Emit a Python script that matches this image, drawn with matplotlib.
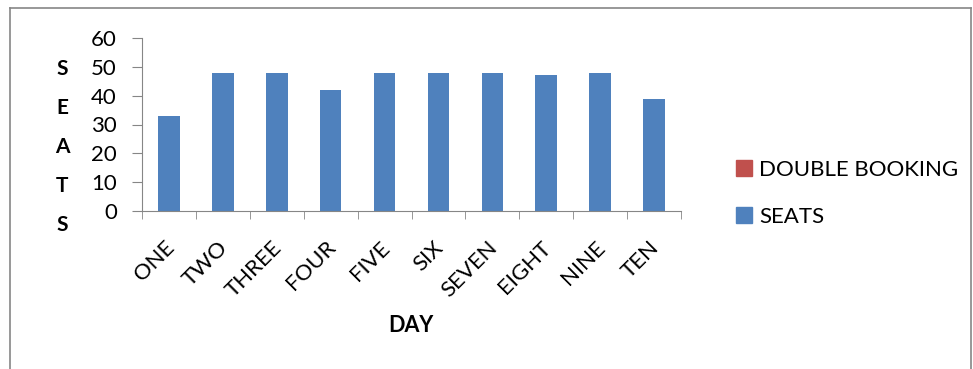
import matplotlib
matplotlib.use('Agg')
import matplotlib.pyplot as plt
from matplotlib.patches import Patch
from matplotlib.lines import Line2D
from matplotlib.transforms import ScaledTranslation

days = ['ONE', 'TWO', 'THREE', 'FOUR', 'FIVE', 'SIX', 'SEVEN', 'EIGHT', 'NINE', 'TEN']
seats = [33, 48, 48, 42, 48, 48, 48, 47, 48, 39]
double_booking = [0, 0, 0, 0, 0, 0, 0, 0, 0, 0]

plt.rcParams['font.family'] = ['Lato', 'DejaVu Sans']

W, H = 973, 369
fig = plt.figure(figsize=(W / 100, H / 100), dpi=100)
fig.patch.set_facecolor('white')

# outer chart border (Excel style)
bc = '#868686'
fig.add_artist(Line2D([10 / W, 10 / W], [-0.1, 1 - 8 / H], color=bc, lw=1.2))
fig.add_artist(Line2D([10 / W, 971 / W], [1 - 8 / H, 1 - 8 / H], color=bc, lw=1.2))
fig.add_artist(Line2D([971 / W, 971 / W], [-0.1, 1 - 8 / H], color=bc, lw=1.2))

ax = fig.add_axes([142 / W, 1 - 211 / H, (681 - 142) / W, (211 - 38) / H])
x = range(len(days))
ax.bar(x, double_booking, width=0.4, color='#C0504D')
ax.bar(x, seats, width=0.4, color='#4F81BD')

ax.set_xlim(-0.5, len(days) - 0.5)
ax.set_ylim(0, 60)
ax.set_yticks(range(0, 61, 10))
ax.tick_params(axis='y', labelsize=16, length=7, color=bc, pad=11)

ax.set_xticks(x)
ax.set_xticklabels(days, rotation=45, ha='right', va='top', rotation_mode='anchor', fontsize=16)
ax.tick_params(axis='x', length=0, pad=19)
shift = ScaledTranslation(-5 / 100, 0, fig.dpi_scale_trans)
for lab in ax.get_xticklabels():
    lab.set_transform(lab.get_transform() + shift)
ax.set_xticks([i - 0.5 for i in range(len(days) + 1)], minor=True)
ax.tick_params(axis='x', which='minor', length=6, color=bc)

for s in ['top', 'right']:
    ax.spines[s].set_visible(False)
for s in ['left', 'bottom']:
    ax.spines[s].set_color(bc)

fig.text(411 / W, 1 - 326 / H, 'DAY', fontsize=15.5, fontweight='bold', ha='center', va='center')
fig.text(62 / W, 1 - 147 / H, 'S\nE\nA\nT\nS', fontsize=15, fontweight='bold',
         ha='center', va='center', linespacing=2.2)

handles = [Patch(color='#C0504D'), Patch(color='#4F81BD')]
fig.legend(handles, ['DOUBLE BOOKING', 'SEATS'], loc='upper left',
           bbox_to_anchor=(716 / W, 1 - 140 / H), frameon=False, fontsize=16,
           handlelength=0.7, handleheight=0.7, handletextpad=0.35, labelspacing=1.2)

fig.savefig('out.png', dpi=100, facecolor='white')
